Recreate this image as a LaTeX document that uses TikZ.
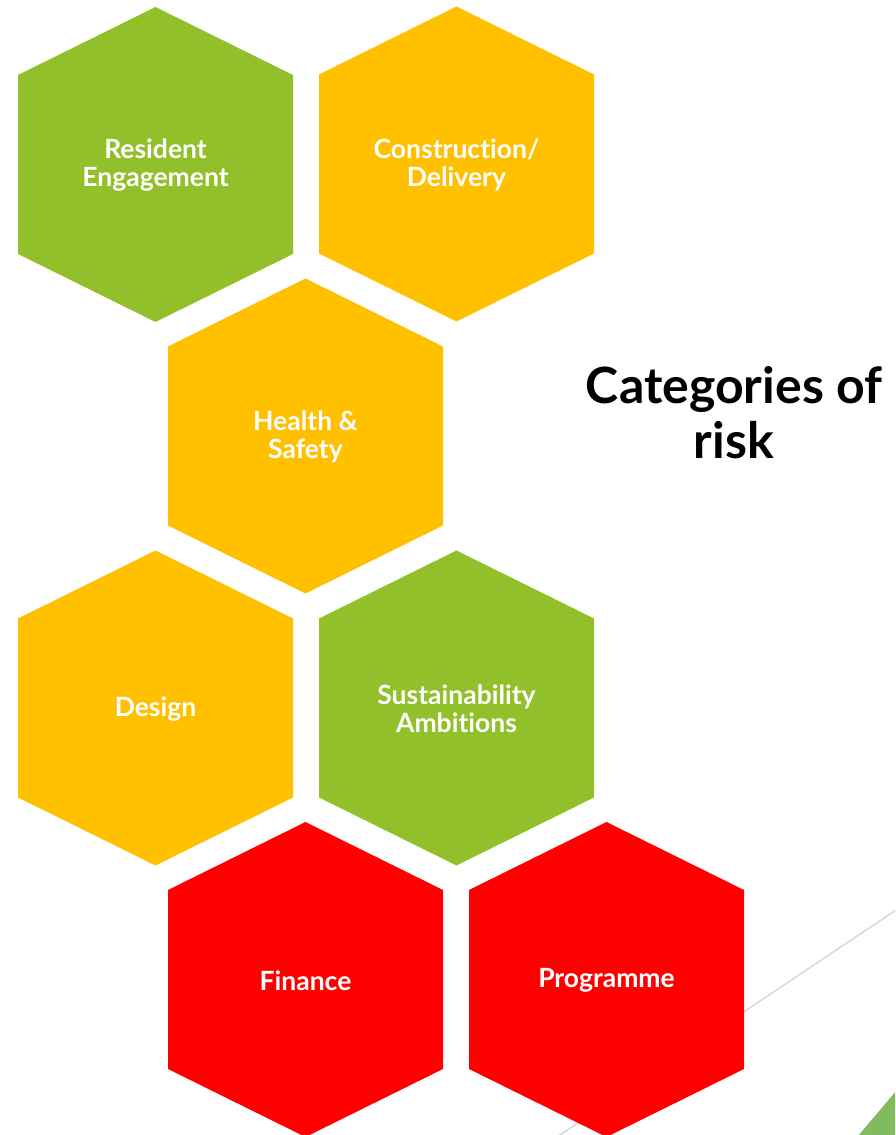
\documentclass[tikz,border=0pt]{standalone}
\usepackage{fontspec}
\setmainfont{Lato}[Ligatures={NoCommon}]
\usepackage{xcolor}
\definecolor{hexgreen}{HTML}{92C02A}
\definecolor{hexamber}{HTML}{FFC000}
\definecolor{hexred}{HTML}{FF0000}
\definecolor{cornergreen}{HTML}{82BB5E}
\definecolor{rulegray}{HTML}{D9D9D9}

\begin{document}
\begin{tikzpicture}[x=1pt,y=1pt]
        % page frame
        \clip (0,0) rectangle (895,1135);
        % thin rule and corner triangle behind the cells
        \coordinate (ruletop) at (896,225);
        \coordinate (rulebot) at (557,-2);
        \draw[rulegray,line width=1.6pt] (ruletop) -- (rulebot);
        \fill[cornergreen] (858,-1) -- (896,44) -- (896,-1) -- cycle;
        % draw the hexagons with their labels
        \foreach \cx/\cy/\col/\nm/\txt in {
            155.5/970.5/hexgreen/resident/{Resident\\Engagement},
            456.5/971/hexamber/construction/{Construction/\\Delivery},
            305.5/699/hexamber/health/{Health \&\\Safety},
            155.5/427/hexamber/design/{Design},
            456.5/427/hexgreen/sustain/{Sustainability\\Ambitions},
            305.5/155.5/hexred/finance/{Finance},
            606.5/155.5/hexred/programme/{Programme}} {
                % cell outline
                \fill[\col] (\cx,\cy) ++(0,157.5) -- ++(137.5,-68) -- ++(0,-179)
                      -- ++(-137.5,-68) -- ++(-137.5,68) -- ++(0,179) -- cycle;
                % cell label
                \node[text=white,font=\bfseries\fontsize{26.5}{28}\selectfont,align=center]
                      (\nm) at (\cx,\cy-1) {\txt};
                 }
        % heading on the right
        \node[font=\bfseries\fontsize{50}{55}\selectfont,align=center]
              (heading) at (734,722) {Categories of\\risk};
    \end{tikzpicture}
\end{document}
